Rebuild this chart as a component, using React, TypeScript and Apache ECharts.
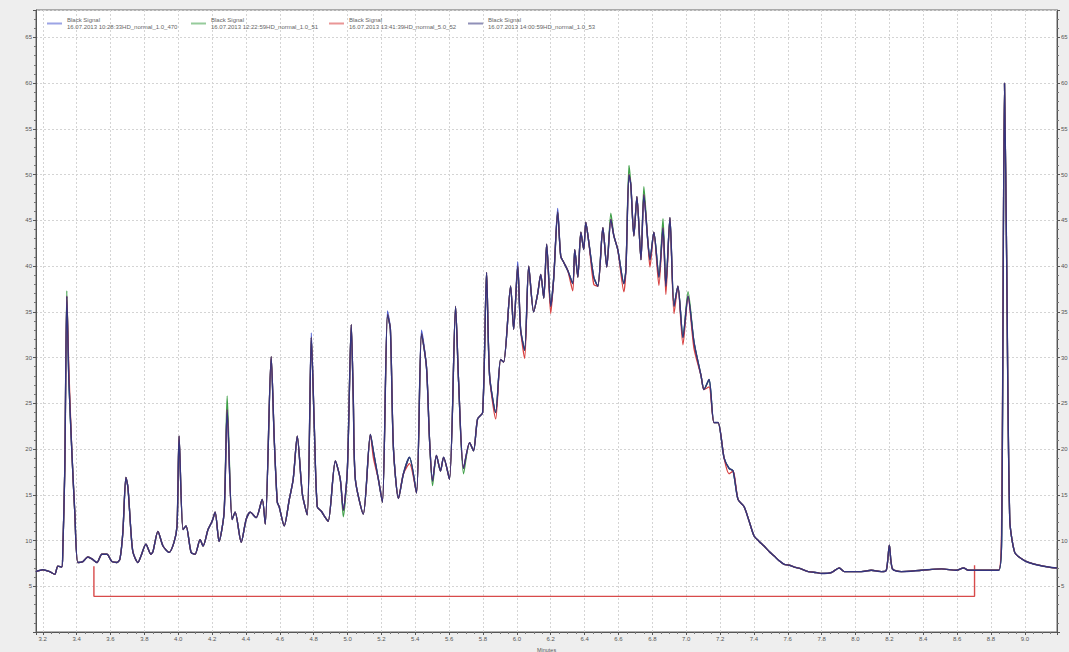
import React, { useEffect, useRef } from "react";
import * as echarts from "echarts";

// Retention time (minutes)
const retentionTime = [
  3.159, 3.2, 3.241, 3.271, 3.289, 3.312, 3.318, 3.33, 3.342, 3.354, 3.372, 3.389, 3.407, 3.437, 3.466, 3.49,
  3.52, 3.549, 3.579, 3.608, 3.638, 3.656, 3.673, 3.691, 3.703, 3.721, 3.733, 3.762, 3.78, 3.809, 3.839, 3.851,
  3.88, 3.91, 3.946, 3.975, 3.993, 4.005, 4.028, 4.046, 4.076, 4.099, 4.129, 4.147, 4.176, 4.2, 4.218, 4.241,
  4.271, 4.289, 4.318, 4.336, 4.372, 4.401, 4.425, 4.46, 4.496, 4.514, 4.549, 4.567, 4.585, 4.596, 4.626, 4.656,
  4.679, 4.703, 4.733, 4.762, 4.786, 4.804, 4.821, 4.845, 4.869, 4.886, 4.928, 4.957, 4.975, 4.999, 5.022, 5.034,
  5.046, 5.093, 5.135, 5.153, 5.182, 5.206, 5.236, 5.253, 5.271, 5.301, 5.33, 5.366, 5.407, 5.437, 5.466, 5.484,
  5.502, 5.525, 5.549, 5.567, 5.602, 5.638, 5.656, 5.685, 5.721, 5.744, 5.768, 5.798, 5.821, 5.839, 5.875, 5.904,
  5.922, 5.963, 5.981, 6.005, 6.022, 6.046, 6.07, 6.099, 6.123, 6.141, 6.159, 6.176, 6.2, 6.218, 6.241, 6.259,
  6.277, 6.301, 6.33, 6.342, 6.36, 6.378, 6.395, 6.407, 6.425, 6.454, 6.478, 6.508, 6.531, 6.555, 6.573, 6.596,
  6.632, 6.644, 6.662, 6.673, 6.691, 6.709, 6.733, 6.75, 6.774, 6.786, 6.809, 6.839, 6.863, 6.88, 6.904, 6.928,
  6.951, 6.981, 7.011, 7.046, 7.088, 7.105, 7.135, 7.164, 7.188, 7.224, 7.253, 7.277, 7.306, 7.342, 7.372, 7.401,
  7.431, 7.46, 7.49, 7.52, 7.549, 7.579, 7.608, 7.638, 7.679, 7.721, 7.768, 7.798, 7.857, 7.904, 7.934, 7.975,
  8.034, 8.093, 8.153, 8.182, 8.2, 8.218, 8.271, 8.389, 8.508, 8.596, 8.638, 8.667, 8.774, 8.845, 8.863, 8.88,
  8.892, 8.911, 8.94, 8.981, 9.022, 9.082, 9.141, 9.19,
];

// Signal of the top (dark) trace
const blackSignal = [
  6.6, 6.8, 6.6, 6.3, 7.2, 7.1, 8.7, 17.8, 36.7, 27.6, 19.6, 13.1, 7.6, 7.7, 8.2, 8.0,
  7.6, 8.5, 8.5, 7.7, 7.6, 8.0, 10.9, 16.9, 15.8, 10.9, 8.7, 7.6, 8.3, 9.6, 8.5, 8.8,
  11.0, 9.4, 8.7, 9.8, 11.6, 21.4, 11.2, 11.6, 8.7, 8.5, 10.1, 9.4, 11.2, 12.1, 13.1, 9.9,
  13.1, 24.3, 12.3, 13.1, 9.8, 12.3, 13.1, 12.5, 14.5, 11.8, 30.1, 21.1, 14.2, 13.7, 11.6, 14.5,
  16.7, 21.4, 15.1, 12.8, 32.2, 22.2, 13.7, 13.2, 12.5, 12.1, 18.7, 16.7, 13.3, 17.8, 33.6, 25.4,
  16.7, 12.9, 21.6, 19.7, 16.7, 14.2, 34.7, 33.1, 20.1, 14.6, 17.3, 19.1, 15.2, 32.6, 29.0, 21.1,
  16.5, 19.3, 17.6, 19.1, 16.7, 35.6, 27.3, 17.9, 20.7, 19.8, 23.3, 24.0, 39.3, 28.0, 24.0, 29.8,
  29.5, 37.8, 33.1, 40.0, 33.1, 30.8, 40.0, 35.0, 37.0, 39.1, 36.5, 42.4, 35.6, 38.8, 45.9, 41.1,
  40.4, 39.5, 38.1, 41.8, 38.8, 43.7, 41.8, 44.8, 42.6, 38.8, 37.8, 44.2, 39.9, 45.1, 43.3, 41.8,
  38.1, 39.6, 50.0, 48.9, 43.3, 47.6, 40.7, 47.8, 42.6, 40.7, 43.7, 38.8, 44.2, 37.8, 45.3, 35.6,
  37.8, 32.2, 36.7, 31.7, 28.0, 26.5, 27.6, 22.9, 22.9, 19.0, 17.9, 17.6, 14.5, 13.7, 12.1, 10.5,
  9.9, 9.4, 8.8, 8.3, 7.8, 7.4, 7.3, 7.1, 6.9, 6.6, 6.5, 6.4, 6.5, 7.0, 6.6, 6.6,
  6.6, 6.75, 6.6, 6.75, 9.5, 6.9, 6.6, 6.75, 6.9, 6.75, 7.0, 6.75, 6.75, 6.75, 10.1, 60.0,
  41.8, 12.3, 8.7, 8.0, 7.6, 7.3, 7.1, 7.0,
];

// Where the other runs differ from the dark trace: [time, value]
const blueDiffs = [[4.786, 32.7], [5.236, 35.1], [5.437, 33.0], [6.005, 40.5], [6.241, 46.3]];
const greenDiffs = [
  [3.342, 37.3], [4.289, 25.8], [4.975, 12.6], [5.502, 16.0], [5.685, 17.3], [6.555, 45.8],
  [6.662, 51.0], [6.75, 48.7], [6.863, 45.2], [7.011, 37.2],
];
const redDiffs = [
  [3.354, 28.8], [5.153, 19.0], [5.366, 18.4], [5.875, 23.3], [6.046, 29.9], [6.2, 34.8],
  [6.33, 37.3], [6.454, 38.0], [6.632, 37.2], [6.786, 39.9], [6.839, 37.9], [6.88, 36.9],
  [6.928, 34.8], [6.981, 31.4], [7.046, 31.0], [7.135, 26.8], [7.253, 17.3], [8.863, 12.5],
];

// Integration baseline bracket
const bracketTimes = [3.502, 3.502, 8.703, 8.703];
const bracketValues = [7.2, 3.9, 3.9, 7.3];

const runNames = [
  "Black Signal\n16.07.2013 10:28:33HD_normal_1.0_470",
  "Black Signal\n16.07.2013 12:22:59HD_normal_1.0_51",
  "Black Signal\n16.07.2013 13:41:39HD_normal_5.0_52",
  "Black Signal\n16.07.2013 14:00:59HD_normal_1.0_53",
];
const runColors = ["#4a5ad0", "#3fa048", "#d84040", "#34347e"];

function withDiffs(diffs: number[][]) {
  return retentionTime.map((t, i) => {
    const d = diffs.find((p) => p[0] === t);
    return [t, d ? d[1] : blackSignal[i]];
  });
}

export default function App() {
  const ref = useRef<HTMLDivElement>(null);
  useEffect(() => {
    if (!ref.current) return;
    const chart = echarts.init(ref.current, null, { renderer: "svg" });
    const font = "Liberation Sans";
    const axisLabel = { fontSize: 6, color: "#555", fontFamily: font };
    const seriesData = [withDiffs(blueDiffs), withDiffs(greenDiffs), withDiffs(redDiffs), withDiffs([])];
    const legendLeft = [42, 186, 324, 463];
    const yCommon = {
      type: "value",
      min: 0,
      max: 68,
      interval: 5,
      axisLine: { show: true, lineStyle: { color: "#555" } },
      axisTick: { show: true, length: 3, lineStyle: { color: "#555" } },
      minorTick: { show: true, splitNumber: 5, length: 2, lineStyle: { color: "#777" } },
      axisLabel: { ...axisLabel, margin: 4, showMinLabel: false, showMaxLabel: false },
    };
    chart.setOption({
      animation: false,
      backgroundColor: "#eeeeee",
      grid: {
        left: 36,
        right: 12,
        top: 10,
        bottom: 20,
        outerBoundsMode: "none",
        containLabel: false,
        show: true,
        backgroundColor: "#ffffff",
        borderColor: "#666",
        borderWidth: 1,
      },
      legend: runNames.map((n, i) => ({
        data: [n],
        left: legendLeft[i],
        top: 12,
        itemWidth: 15,
        itemHeight: 2,
        itemGap: 4,
        icon: "rect",
        itemStyle: { opacity: 0.55 },
        textStyle: { fontSize: 6, color: "#666", fontFamily: font, lineHeight: 6.5 },
      })),
      xAxis: {
        type: "value",
        min: 3.16,
        max: 9.19,
        minInterval: 0.2,
        maxInterval: 0.2,
        name: "Minutes",
        nameLocation: "middle",
        nameGap: 10,
        nameTextStyle: { fontSize: 5.5, color: "#555", fontFamily: font },
        axisLine: { show: true, onZero: false, lineStyle: { color: "#555" } },
        axisTick: { show: true, length: 3, lineStyle: { color: "#555" } },
        minorTick: { show: true, splitNumber: 4, length: 2, lineStyle: { color: "#777" } },
        axisLabel: {
          ...axisLabel,
          margin: 4,
          showMinLabel: false,
          showMaxLabel: false,
          formatter: (v: number) => v.toFixed(1),
        },
        splitLine: { show: true, lineStyle: { color: "#d4d4d4", type: [2, 2], width: 1 } },
      },
      yAxis: [
        {
          ...yCommon,
          position: "left",
          splitLine: { show: true, lineStyle: { color: "#d4d4d4", type: [2, 2], width: 1 } },
        },
        {
          ...yCommon,
          position: "right",
          splitLine: { show: false },
        },
      ],
      series: [
        ...runNames.map((n, i) => ({
          name: n,
          type: "line",
          data: seriesData[i],
          showSymbol: false,
          symbol: "none",
          smooth: 0.25,
          color: runColors[i],
          lineStyle: { width: i === 3 ? 1.4 : 1.3, color: runColors[i] },
          z: 2 + i,
        })),
        {
          name: "baseline",
          type: "line",
          data: bracketTimes.map((t, i) => [t, bracketValues[i]]),
          showSymbol: false,
          symbol: "none",
          lineStyle: { width: 1.4, color: "#d84a4a" },
          z: 1,
        },
      ],
    });
    return () => chart.dispose();
  }, []);
  return (
    <div
      ref={ref}
      style={{ position: "absolute", left: 0, top: 0, width: 1069, height: 652 }}
    />
  );
}
